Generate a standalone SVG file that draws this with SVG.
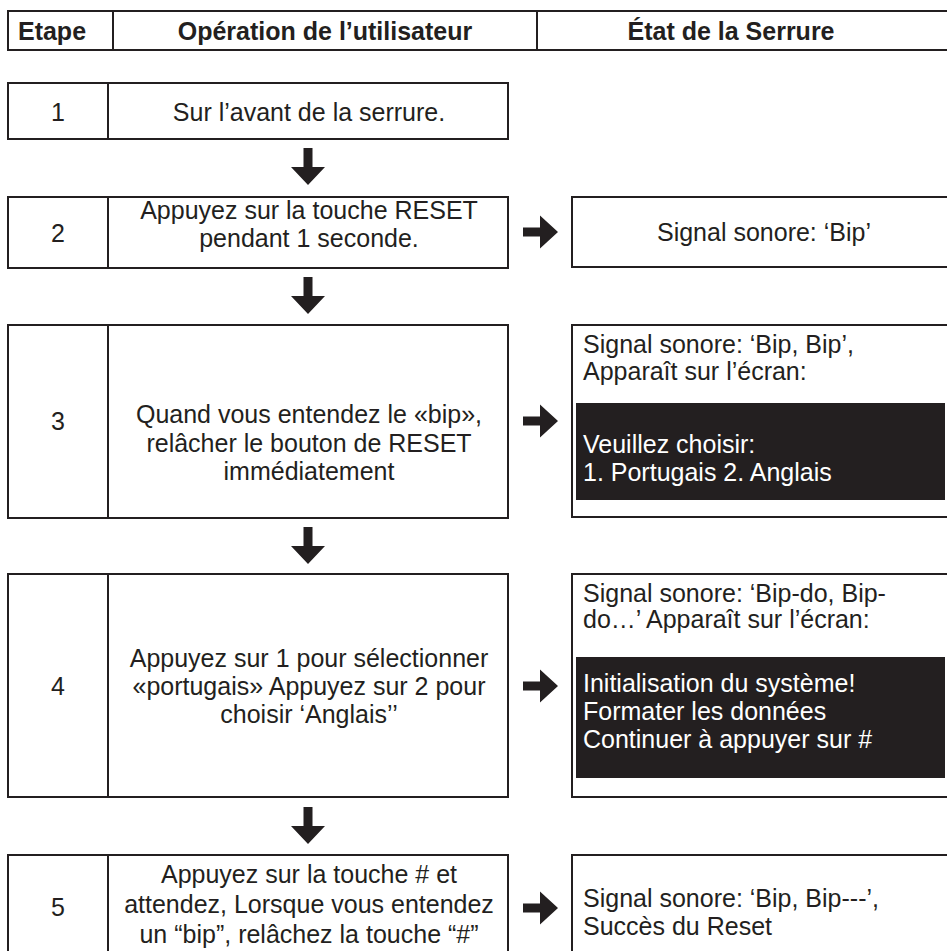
<svg xmlns="http://www.w3.org/2000/svg" width="947" height="951" viewBox="0 0 947 951">
<style>
  .box{fill:#fff;stroke:#231f20;stroke-width:2}
  .ln{stroke:#231f20;stroke-width:2}
  .t{font-family:"Liberation Sans",Arial,sans-serif;font-size:25px;fill:#231f20}
  .c{text-anchor:middle}
  .h{font-weight:bold}
  .w{fill:#fff}
  .scr{fill:#231f20}
  .arr{fill:#231f20}
</style>
<defs>
  <path id="down" d="M-4.5,0 H4.5 V19 H17 L0,37 L-17,19 H-4.5 Z"/>
  <path id="right" d="M0,-4.5 H17 V-16.5 L35,0 L17,16.5 V4.5 H0 Z"/>
</defs>
<rect width="947" height="951" fill="#fff"/>

<g id="header">
  <rect class="box" x="8" y="11" width="960" height="39"/>
  <line class="ln" x1="113" y1="11" x2="113" y2="50"/>
  <line class="ln" x1="537" y1="11" x2="537" y2="50"/>
  <text class="t h c" x="52" y="40">Etape</text>
  <text class="t h c" x="325" y="40">Opération de l’utilisateur</text>
  <text class="t h c" x="731" y="40">État de la Serrure</text>
</g>

<g id="step1">
  <rect class="box" x="8" y="83" width="500" height="56"/>
  <line class="ln" x1="108" y1="83" x2="108" y2="139"/>
  <text class="t c" x="58" y="121">1</text>
  <text class="t c" x="309" y="121">Sur l’avant de la serrure.</text>
</g>

<g id="step2">
  <rect class="box" x="8" y="197" width="500" height="71"/>
  <line class="ln" x1="108" y1="197" x2="108" y2="268"/>
  <text class="t c" x="58" y="242">2</text>
  <text class="t c" x="309" y="219">Appuyez sur la touche RESET</text>
  <text class="t c" x="309" y="247">pendant 1 seconde.</text>
</g>
<g id="state2">
  <rect class="box" x="572" y="197" width="400" height="70"/>
  <text class="t c" x="764" y="241">Signal sonore: ‘Bip’</text>
</g>

<g id="step3">
  <rect class="box" x="8" y="325" width="500" height="193"/>
  <line class="ln" x1="108" y1="325" x2="108" y2="518"/>
  <text class="t c" x="58" y="430">3</text>
  <text class="t c" x="309" y="423">Quand vous entendez le «bip»,</text>
  <text class="t c" x="309" y="452">relâcher le bouton de RESET</text>
  <text class="t c" x="309" y="480">immédiatement</text>
</g>
<g id="state3">
  <rect class="box" x="572" y="325" width="400" height="192"/>
  <text class="t" x="583" y="353">Signal sonore: ‘Bip, Bip’,</text>
  <text class="t" x="583" y="380">Apparaît sur l’écran:</text>
  <rect class="scr" x="576" y="403" width="369" height="97"/>
  <text class="t w" x="583" y="453">Veuillez choisir:</text>
  <text class="t w" x="583" y="481">1. Portugais 2. Anglais</text>
</g>

<g id="step4">
  <rect class="box" x="8" y="574" width="500" height="223"/>
  <line class="ln" x1="108" y1="574" x2="108" y2="797"/>
  <text class="t c" x="58" y="695">4</text>
  <text class="t c" x="309" y="667">Appuyez sur 1 pour sélectionner</text>
  <text class="t c" x="309" y="695">«portugais» Appuyez sur 2 pour</text>
  <text class="t c" x="309" y="723">choisir ‘Anglais’’</text>
</g>
<g id="state4">
  <rect class="box" x="572" y="574" width="400" height="223"/>
  <text class="t" x="583" y="602">Signal sonore: ‘Bip-do, Bip-</text>
  <text class="t" x="583" y="628">do…’ Apparaît sur l’écran:</text>
  <rect class="scr" x="576" y="657" width="369" height="121"/>
  <text class="t w" x="583" y="692">Initialisation du système!</text>
  <text class="t w" x="583" y="720">Formater les données</text>
  <text class="t w" x="583" y="748">Continuer à appuyer sur #</text>
</g>

<g id="step5">
  <rect class="box" x="8" y="855" width="500" height="120"/>
  <line class="ln" x1="108" y1="855" x2="108" y2="975"/>
  <text class="t c" x="58" y="916">5</text>
  <text class="t c" x="309" y="883">Appuyez sur la touche # et</text>
  <text class="t c" x="309" y="913">attendez, Lorsque vous entendez</text>
  <text class="t c" x="309" y="943">un “bip”, relâchez la touche “#”</text>
</g>
<g id="state5">
  <rect class="box" x="572" y="855" width="400" height="120"/>
  <text class="t" x="583" y="907">Signal sonore: ‘Bip, Bip---’,</text>
  <text class="t" x="583" y="935">Succès du Reset</text>
</g>

<g id="connectors">
  <use href="#down" class="arr" x="308" y="148"/>
  <use href="#down" class="arr" x="308" y="277"/>
  <use href="#down" class="arr" x="308" y="527"/>
  <use href="#down" class="arr" x="308" y="807"/>
  <use href="#right" class="arr" x="523" y="232"/>
  <use href="#right" class="arr" x="523" y="421"/>
  <use href="#right" class="arr" x="523" y="686"/>
  <use href="#right" class="arr" x="523" y="908"/>
</g>
</svg>
